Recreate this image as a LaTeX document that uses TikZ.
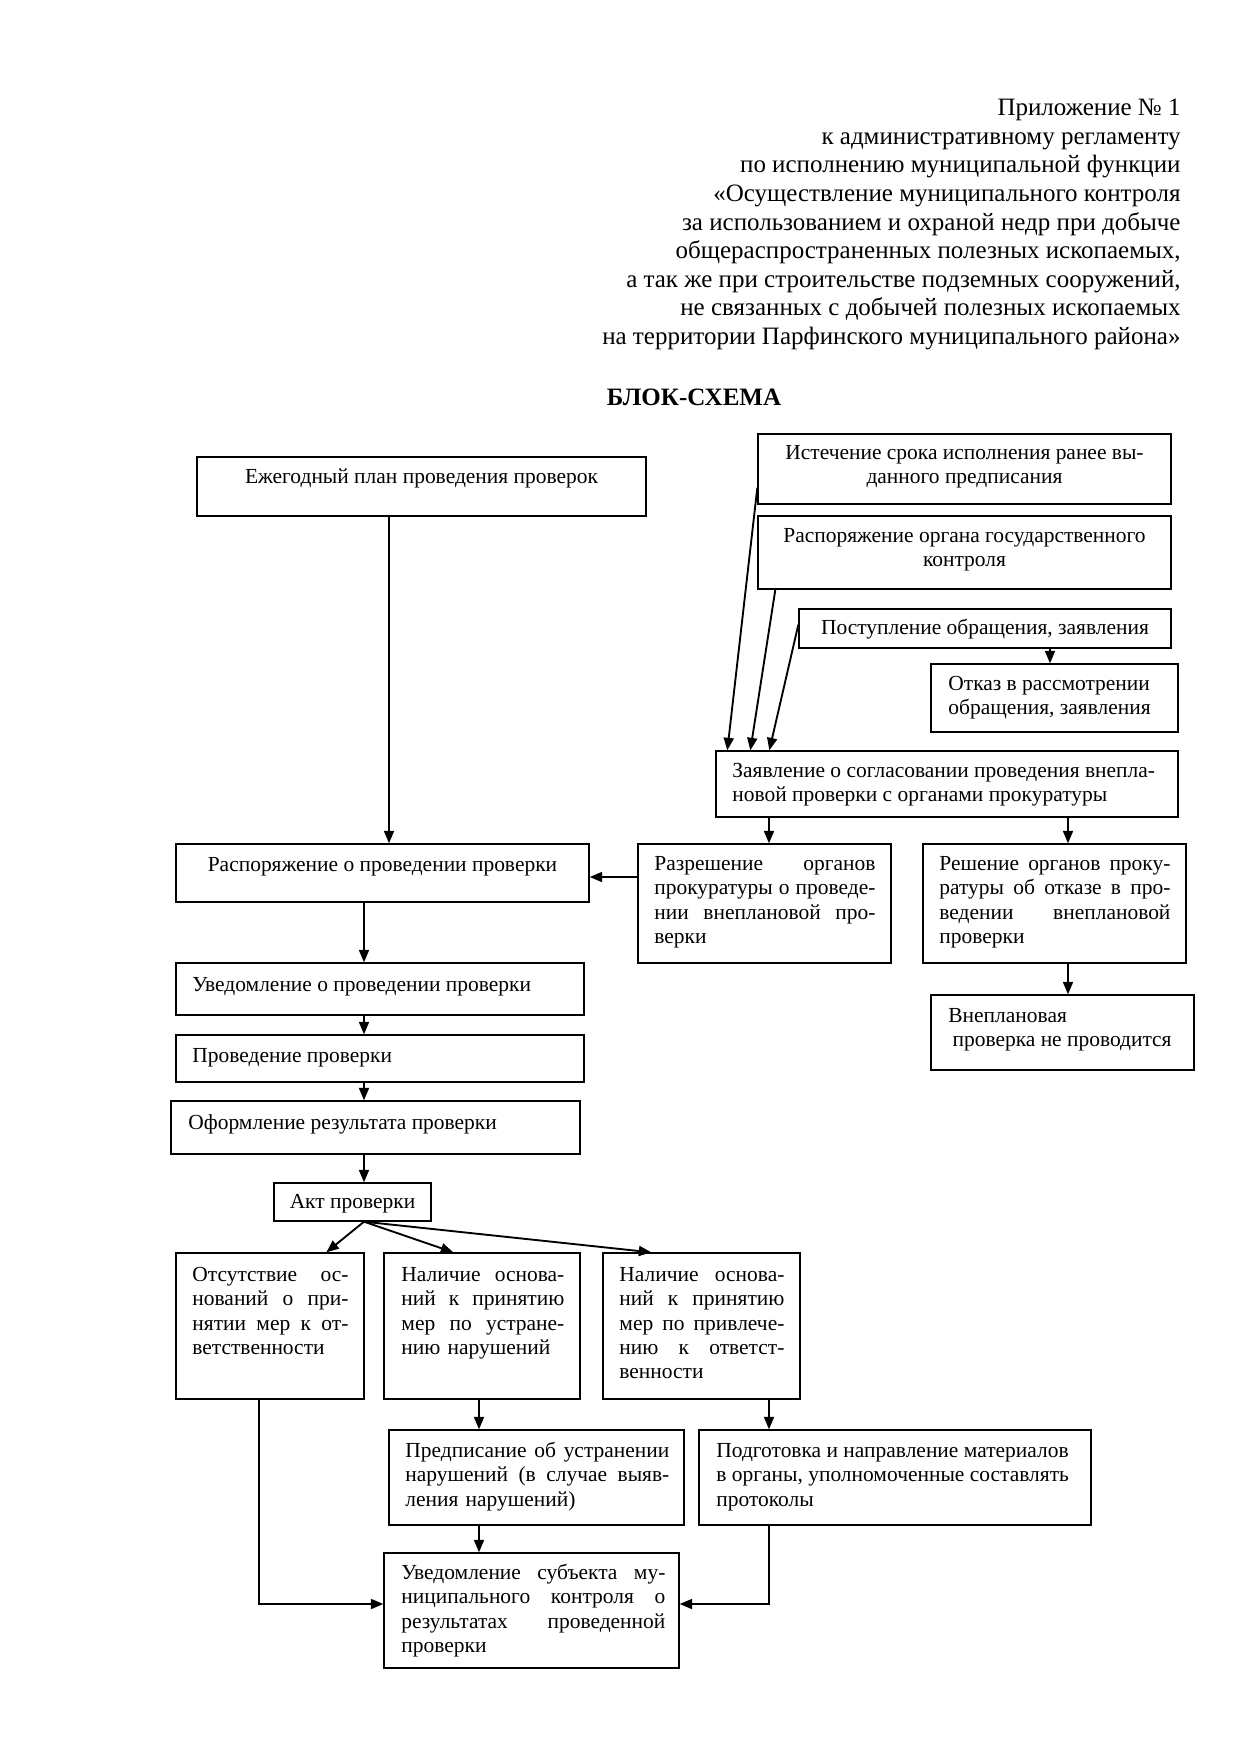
\documentclass[tikz,border=0pt]{standalone}
\usepackage{fontspec}
\setmainfont{Liberation Serif}
\usetikzlibrary{arrows.meta,fit,calc}
\newcommand{\J}[1]{\makebox[\hsize][s]{\spaceskip=0pt\xspaceskip=0pt\relax #1}}
\begin{document}
\begin{tikzpicture}[x=0.48pt,y=-0.48pt,
  box/.style={draw, line width=0.65pt, inner sep=0pt},
  txt/.style={anchor=north west, inner sep=0pt, align=left, font=\fontsize{10.3}{11.7}\selectfont},
  ctxt/.style={anchor=north, inner sep=0pt, align=center, font=\fontsize{10.3}{11.7}\selectfont},
  arr/.style={-{Triangle[length=6pt,width=4.8pt]}, line width=0.9pt}]
\fill[white] (0,0) rectangle (1241,1755);
\useasboundingbox (0,0) rectangle (1241,1755);

% header
\node[anchor=north east, inner sep=0pt, align=right, font=\fontsize{12}{13.7}\selectfont] (hdr) at (1181,95.5)
{\strut Приложение № 1\\
к административному регламенту\\
по исполнению муниципальной функции\\
«Осуществление муниципального контроля\\
за использованием и охраной недр при добыче\\
общераспространенных полезных ископаемых,\\
а так же при строительстве подземных сооружений,\\
не связанных с добычей полезных ископаемых\\
на территории Парфинского муниципального района»};
\node[inner sep=0pt, font=\fontsize{12}{13.7}\selectfont\bfseries] (title) at (694,397) {БЛОК-СХЕМА};

% boxes
\node[box, fit={(197,457)(646,516)}] (ejeg) {};
\node[box, fit={(758,434)(1171,504)}] (ist) {};
\node[box, fit={(758,516)(1171,589)}] (rorg) {};
\node[box, fit={(799,609)(1171,648)}] (post) {};
\node[box, fit={(931,664)(1178,732)}] (otkaz) {};
\node[box, fit={(716,751)(1178,817)}] (zayav) {};
\node[box, fit={(176,844)(589,902)}] (rasp) {};
\node[box, fit={(638,844)(891,963)}] (razr) {};
\node[box, fit={(923,844)(1186,963)}] (resh) {};
\node[box, fit={(931,995)(1194,1070)}] (vnepl) {};
\node[box, fit={(176,963)(584,1015)}] (uved) {};
\node[box, fit={(176,1035)(584,1082)}] (prov) {};
\node[box, fit={(171,1101)(580,1154)}] (oform) {};
\node[box, fit={(274,1183)(431,1221)}] (akt) {};
\node[box, fit={(176,1253)(364,1399)}] (otsut) {};
\node[box, fit={(384,1253)(580,1399)}] (nal1) {};
\node[box, fit={(603,1253)(800,1399)}] (nal2) {};
\node[box, fit={(389,1430)(684,1525)}] (predp) {};
\node[box, fit={(699,1430)(1091,1525)}] (podg) {};
\node[box, fit={(384,1553)(679,1668)}] (uvsub) {};

% texts
\node[ctxt] (tejeg) at (421.5,466) {\strut Ежегодный план проведения проверок};
\node[ctxt] (tist) at (964.5,442) {\strut Истечение срока исполнения ранее вы-\\данного предписания};
\node[ctxt] (trorg) at (964.5,525) {\strut Распоряжение органа государственного\\контроля};
\node[ctxt] (tpost) at (985,617) {\strut Поступление обращения, заявления};
\node[txt] (totkaz) at (948,673) {\strut Отказ в рассмотрении\\обращения, заявления};
\node[txt] (tzayav) at (732,760) {\strut Заявление о согласовании проведения внепла-\\новой проверки с органами прокуратуры};
\node[txt, text width=106.1pt] (trazr) at (654,853) {\strut\J{Разрешение органов}\\\J{прокуратуры о проведе-}\\\J{нии внеплановой про-}\\верки};
\node[txt, text width=110.9pt] (tresh) at (939,853) {\strut\J{Решение органов проку-}\\\J{ратуры об отказе в про-}\\\J{ведении внеплановой}\\проверки};
\node[txt] (tvnepl) at (948,1005) {\strut Внеплановая\\\hspace*{2pt}проверка не проводится};
\node[ctxt] (trasp) at (382.5,854) {\strut Распоряжение о проведении проверки};
\node[txt] (tuved) at (192,974) {\strut Уведомление о проведении проверки};
\node[txt] (tprov) at (192,1045) {\strut Проведение проверки};
\node[txt] (toform) at (188,1112) {\strut Оформление результата проверки};
\node[ctxt] (takt) at (352.5,1191) {\strut Акт проверки};
\node[txt, text width=74.9pt] (totsut) at (192,1264) {\strut\J{Отсутствие ос-}\\\J{нований о при-}\\\J{нятии мер к от-}\\ветственности};
\node[txt, text width=78.2pt] (tnal1) at (401,1264) {\strut\J{Наличие основа-}\\\J{ний к принятию}\\\J{мер по устране-}\\нию нарушений};
\node[txt, text width=79.2pt] (tnal2) at (619,1264) {\strut\J{Наличие основа-}\\\J{ний к принятию}\\\J{мер по привлече-}\\\J{нию к ответст-}\\венности};
\node[txt, text width=126.7pt] (tpredp) at (405,1440) {\strut\J{Предписание об устранении}\\\J{нарушений (в случае выяв-}\\ления нарушений)};
\node[txt] (tpodg) at (716,1440) {\strut Подготовка и направление материалов\\в органы, уполномоченные составлять\\протоколы};
\node[txt, text width=126.7pt] (tuvsub) at (401,1562) {\strut\J{Уведомление субъекта му-}\\\J{ниципального контроля о}\\\J{результатах проведенной}\\проверки};

% helper coordinates
\coordinate (cA) at (389,0);
\coordinate (cB) at (1050,0);
\coordinate (cC) at (769,0);
\coordinate (cD) at (1068,0);
\coordinate (cE) at (364,0);
\coordinate (cF) at (259,0);
\coordinate (cH) at (479,0);
\coordinate (cR) at (0,877);
\coordinate (cG) at (0,1604);

% connectors
\draw[arr] (ejeg.south -| cA) -- (rasp.north -| cA);
\draw[arr] ($(ist.south west)+(0,-17)$) -- ($(zayav.north west)+(12,0)$);
\draw[arr] ($(rorg.south west)+(18,0)$) -- ($(zayav.north west)+(35,0)$);
\draw[arr] ($(post.south west)+(0,-24)$) -- ($(zayav.north west)+(54,0)$);
\draw[arr] (post.south -| cB) -- (otkaz.north -| cB);
\draw[arr] (zayav.south -| cC) -- (razr.north -| cC);
\draw[arr] (zayav.south -| cD) -- (resh.north -| cD);
\draw[arr] (resh.south -| cD) -- (vnepl.north -| cD);
\draw[arr] (razr.west |- cR) -- (rasp.east |- cR);
\draw[arr] (rasp.south -| cE) -- (uved.north -| cE);
\draw[arr] (uved.south -| cE) -- (prov.north -| cE);
\draw[arr] (prov.south -| cE) -- (oform.north -| cE);
\draw[arr] (oform.south -| cE) -- (akt.north -| cE);
\draw[arr] (akt.south -| cE) -- ($(otsut.north west)+(151,0)$);
\draw[arr] (akt.south -| cE) -- ($(nal1.north west)+(70,0)$);
\draw[arr] (akt.south -| cE) -- ($(nal2.north west)+(49,0)$);
\draw[arr] (nal1.south -| cH) -- (predp.north -| cH);
\draw[arr] (nal2.south -| cC) -- (podg.north -| cC);
\draw[arr] (predp.south -| cH) -- (uvsub.north -| cH);
\draw[arr] (otsut.south -| cF) |- (uvsub.west |- cG);
\draw[arr] (podg.south -| cC) |- (uvsub.east |- cG);
\end{tikzpicture}
\end{document}
